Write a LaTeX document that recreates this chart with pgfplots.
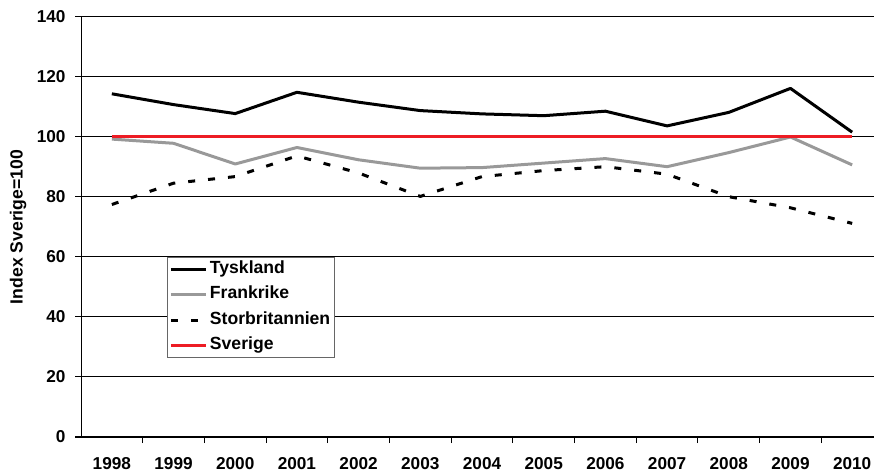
\documentclass[border=0pt]{standalone}
\usepackage{fontspec}
\setmainfont{Liberation Sans}
\usepackage{pgfplots}
\pgfplotsset{compat=1.18}
\definecolor{frgray}{RGB}{153,153,153}
\definecolor{sered}{RGB}{237,28,36}
\newcommand{\tickfont}{\bfseries\fontsize{17.2}{19}\selectfont}
\newcommand{\labelfont}{\bfseries\fontsize{17.6}{20}\selectfont}
\begin{document}
\begin{tikzpicture}
\useasboundingbox (0,0) rectangle (874pt,473pt);
\begin{axis}[
  at={(81pt,36pt)}, anchor=south west,
  scale only axis, width=802pt, height=420pt,
  xmin=1997.5, xmax=2010.5, ymin=0, ymax=140,
  axis x line*=bottom, axis y line*=left,
  axis line style={-, black, line width=1pt},
  ytick={0,20,...,140},
  xtick={1998,1999,2000,2001,2002,2003,2004,2005,2006,2007,2008,2009,2010},
  xticklabels={1998,1999,2000,2001,2002,2003,2004,2005,2006,2007,2008,2009,2010},
  major x tick style={draw=none},
  minor xtick={1998.5,1999.5,2000.5,2001.5,2002.5,2003.5,2004.5,2005.5,2006.5,2007.5,2008.5,2009.5},
  tick align=outside,
  major tick length=6pt, minor tick length=6pt,
  tick style={black, line width=1pt},
  ymajorgrids, grid style={black, line width=1pt},
  /pgf/number format/assume math mode=true,
  ticklabel style={font=\tickfont},
  yticklabel style={xshift=-6pt},
  xticklabel style={yshift=-11pt},
  ylabel={Index Sverige=100},
  ylabel style={font=\labelfont, at={(axis description cs:-0.0785,0.5)}, anchor=center},
  legend style={at={(axis description cs:0.1072,0.4286)}, anchor=north west,
    draw=black!60, line width=1pt, font=\labelfont,
    nodes={text height=12pt, text depth=3.5pt, inner sep=2.5pt},
    row sep=5pt, inner xsep=2pt, inner ysep=1.5pt},
  legend cell align=left,
  legend image code/.code={\draw[#1] (0pt,0pt) -- (35pt,0pt);},
  every axis plot/.append style={line width=3pt, line join=round},
]
\addplot[black] coordinates {
  (1998,114.4) (1999,110.8) (2000,107.8) (2001,114.9) (2002,111.6) (2003,108.8) (2004,107.7)
  (2005,107.1) (2006,108.6) (2007,103.7) (2008,108.2) (2009,116.2) (2010,101.6)};
\addlegendentry{Tyskland}
\addplot[frgray] coordinates {
  (1998,99.3) (1999,97.9) (2000,91.0) (2001,96.5) (2002,92.4) (2003,89.6) (2004,89.8)
  (2005,91.3) (2006,92.8) (2007,90.1) (2008,94.8) (2009,100.0) (2010,90.7)};
\addlegendentry{Frankrike}
\addplot[black, dash pattern=on 7pt off 13pt] coordinates {
  (1998,77.5) (1999,84.6) (2000,86.8) (2001,93.7) (2002,88.0) (2003,80.2) (2004,86.8)
  (2005,88.8) (2006,90.1) (2007,87.6) (2008,80.1) (2009,76.4) (2010,71.2)};
\addlegendentry{Storbritannien}
\addplot[sered] coordinates {
  (1998,100) (1999,100) (2000,100) (2001,100) (2002,100) (2003,100) (2004,100)
  (2005,100) (2006,100) (2007,100) (2008,100) (2009,100) (2010,100)};
\addlegendentry{Sverige}
\end{axis}
\end{tikzpicture}
\end{document}
